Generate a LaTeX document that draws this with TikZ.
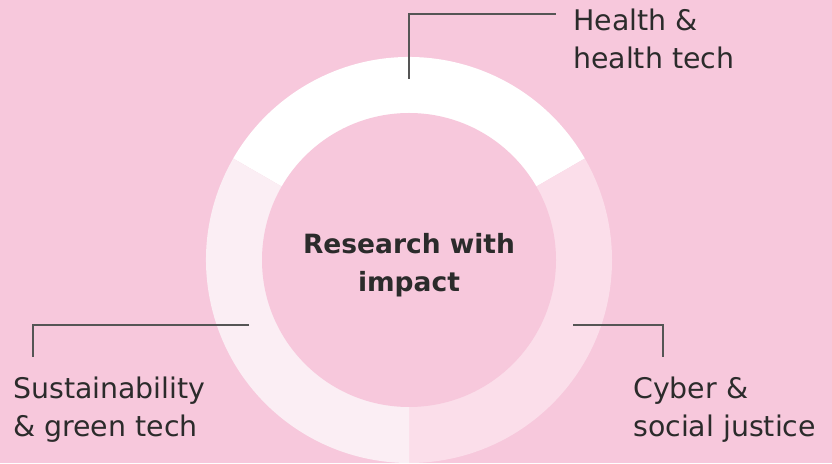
\documentclass[tikz,border=0pt]{standalone}
\usepackage{fontspec}
\setmainfont{DejaVu Sans}
\definecolor{bgpink}{HTML}{F7C8DC}
\definecolor{cyberpink}{HTML}{FBDEEA}
\definecolor{greenpink}{HTML}{FBEEF4}
\definecolor{txtgray}{HTML}{2B2B2B}
\definecolor{linegray}{HTML}{555555}
\begin{document}
\begin{tikzpicture}[x=1pt,y=1pt,
   topic/.style={anchor=base west,align=left,inner sep=0pt,text=txtgray,
      font=\fontsize{28.4}{38}\selectfont},
   core/.style={anchor=base,align=center,inner sep=0pt,text=txtgray,
      font=\fontsize{26.5}{38}\selectfont\bfseries},
   leadline/.style={draw=linegray,line width=1.2pt}]
      \useasboundingbox (0,0) rectangle (832,463);
      \fill[bgpink] (0,0) rectangle (832,463);
      \coordinate (c) at (409,203);
      \fill[white] (c) -- ++(30:203) arc[start angle=30,end angle=150,radius=203] -- cycle;
      \fill[cyberpink] (c) -- ++(-90:203) arc[start angle=-90,end angle=30,radius=203] -- cycle;
      \fill[greenpink] (c) -- ++(150:203) arc[start angle=150,end angle=270,radius=203] -- cycle;
      \fill[bgpink] (c) circle[radius=147];
      \node[core] (rw) at (409,171) {Research with\\impact};
      \node[topic] (health) at (573,394) {Health \&\\health tech};
      \node[topic] (green) at (13,27) {Sustainability\\\& green tech};
      \node[topic] (cyber) at (633,27) {Cyber \&\\social justice};
      \coordinate (h1) at (409,384);
      \coordinate (h2) at (556,449);
      \coordinate (s1) at (249,138);
      \coordinate (s2) at (33,106);
      \coordinate (j1) at (573,138);
      \coordinate (j2) at (663,106);
      \draw[leadline] (h1) |- (h2);
      \draw[leadline] (s1) -| (s2);
      \draw[leadline] (j1) -| (j2);
   \end{tikzpicture}
\end{document}
